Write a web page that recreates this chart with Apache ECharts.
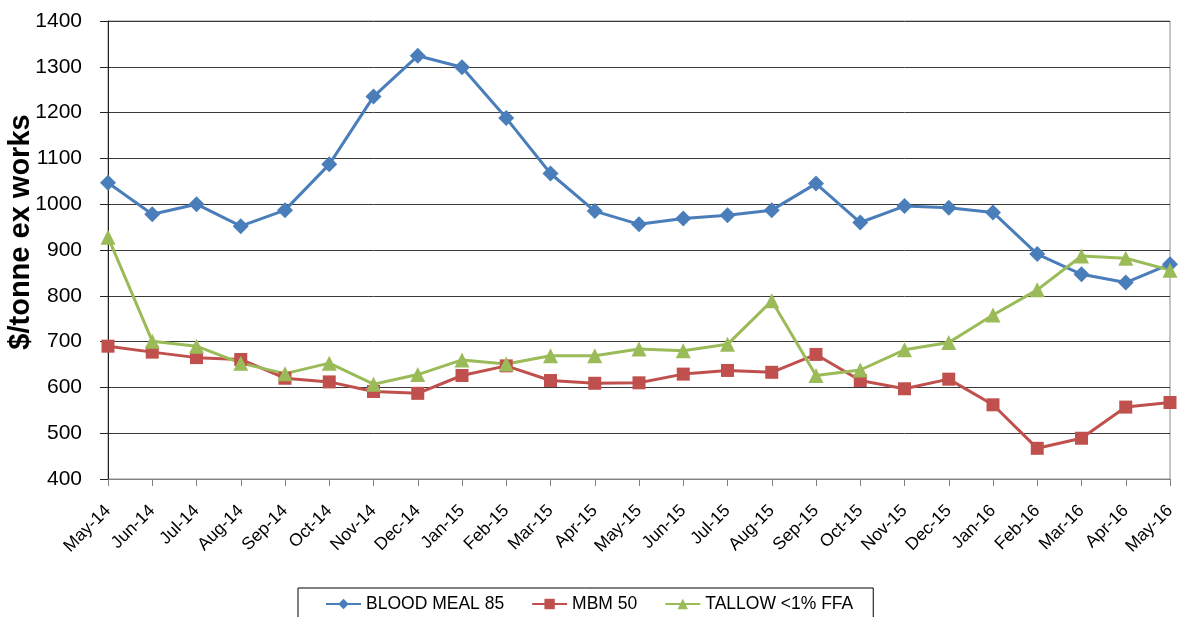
<!DOCTYPE html>
<html>
<head>
<meta charset="utf-8">
<script src="https://cdn.jsdelivr.net/npm/echarts@6/dist/echarts.min.js"></script>
<style>
  html, body { margin: 0; padding: 0; background: #fff; }
  #chart { width: 1181px; height: 617px; }
</style>
</head>
<body>
<div id="chart"></div>
<script>
const categories = ['May-14','Jun-14','Jul-14','Aug-14','Sep-14','Oct-14','Nov-14','Dec-14','Jan-15','Feb-15','Mar-15','Apr-15','May-15','Jun-15','Jul-15','Aug-15','Sep-15','Oct-15','Nov-15','Dec-15','Jan-16','Feb-16','Mar-16','Apr-16','May-16'];
const bloodMeal = [1047, 978, 1000, 952, 987, 1087, 1235, 1324, 1299, 1188, 1067, 985, 956, 969, 976, 987, 1045, 960, 996, 992, 982, 891, 847, 829, 869];
const mbm50 = [690, 677, 665, 661, 620, 612, 591, 587, 626, 647, 615, 609, 610, 629, 637, 633, 672, 615, 597, 618, 562, 467, 489, 557, 567];
const tallow = [928, 701, 690, 653, 630, 653, 607, 628, 660, 651, 669, 669, 684, 680, 694, 789, 626, 638, 682, 698, 758, 813, 887, 882, 856];
const seriesNames = ['BLOOD MEAL 85', 'MBM 50', 'TALLOW <1% FFA'];
const yAxisTitle = '$/tonne ex works';

const regular = "'Liberation Sans', Arial, sans-serif";

const chart = echarts.init(document.getElementById('chart'), null, { renderer: 'canvas' });
chart.setOption({
  animation: false,
  backgroundColor: '#ffffff',
  grid: { left: 108, right: 11, top: 21, bottom: 138, show: true, borderColor: '#8c8c8c', borderWidth: 1, backgroundColor: 'transparent' },
  xAxis: {
    type: 'category',
    data: categories,
    boundaryGap: false,
    axisLine: { show: true, lineStyle: { color: '#808080', width: 1 } },
    axisTick: { show: true, alignWithLabel: true, length: 7, lineStyle: { color: '#808080' } },
    axisLabel: { rotate: 45, interval: 0, margin: 29, color: '#000', fontFamily: regular, fontSize: 17.5 },
    splitLine: { show: false }
  },
  yAxis: {
    type: 'value',
    min: 400, max: 1400, interval: 100,
    axisLine: { show: true, lineStyle: { color: '#222', width: 1 } },
    axisTick: { show: true, inside: false, length: 8, lineStyle: { color: '#222' } },
    axisLabel: { margin: 26, color: '#000', fontFamily: regular, fontSize: 21, formatter: function (v) { return String(v); } },
    splitLine: { show: true, lineStyle: { color: '#3a3a3a', width: 1 } }
  },
  legend: {
    data: seriesNames,
    left: 298, top: 588,
    padding: [7, 20, 30, 27],
    itemGap: 27,
    itemWidth: 35, itemHeight: 13,
    borderColor: '#000', borderWidth: 1,
    textStyle: { color: '#000', fontFamily: regular, fontSize: 17.5 }
  },
  graphic: [{
    type: 'text',
    x: 21, y: 232,
    rotation: Math.PI / 2,
    style: { text: yAxisTitle, fontFamily: regular, fontWeight: 'bold', fontSize: 29, fill: '#000', align: 'center', verticalAlign: 'middle' }
  }],
  series: [
    { name: seriesNames[0], type: 'line', data: bloodMeal, symbol: 'diamond', symbolSize: 16,
      lineStyle: { color: '#4A7EBB', width: 3 }, itemStyle: { color: '#4A7EBB' } },
    { name: seriesNames[1], type: 'line', data: mbm50, symbol: 'rect', symbolSize: 13,
      lineStyle: { color: '#C0504D', width: 3 }, itemStyle: { color: '#C0504D' } },
    { name: seriesNames[2], type: 'line', data: tallow, symbol: 'triangle', symbolSize: 15,
      lineStyle: { color: '#9BBB59', width: 3 }, itemStyle: { color: '#9BBB59' } }
  ]
});
</script>
</body>
</html>
